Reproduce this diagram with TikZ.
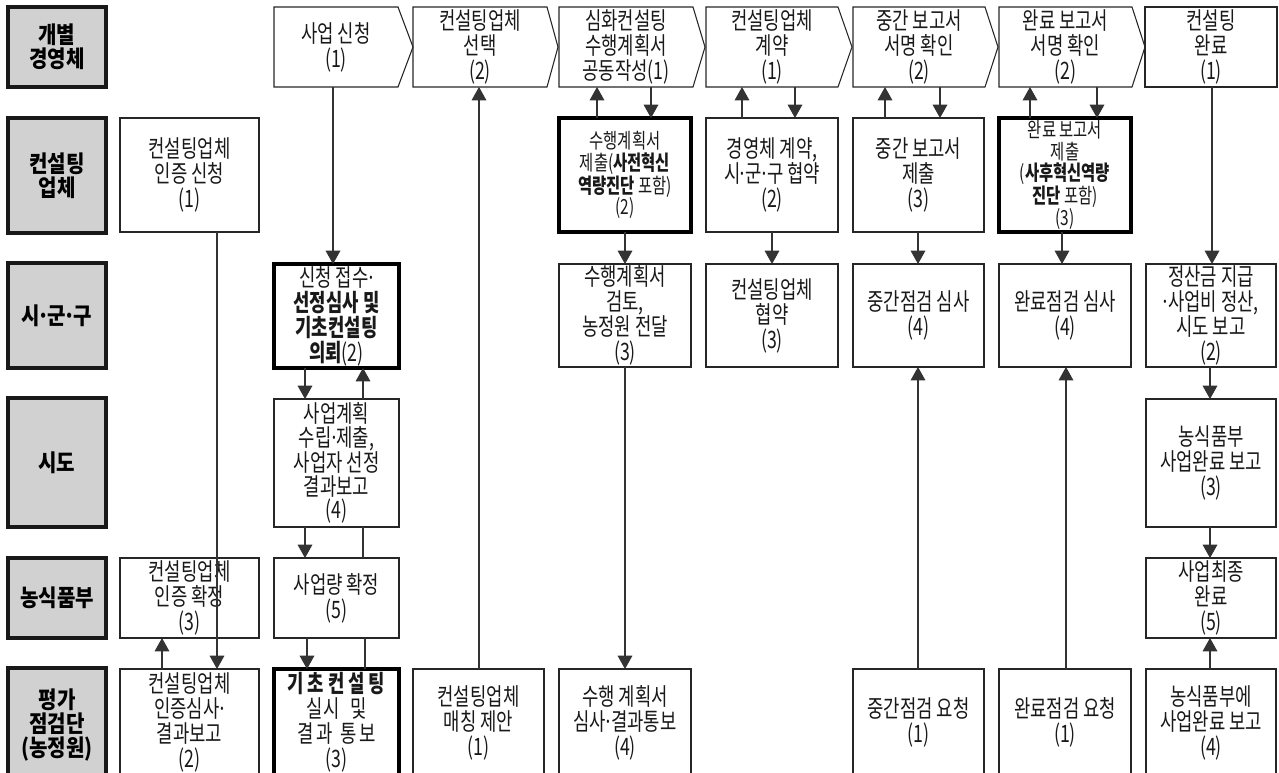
\documentclass[tikz,border=0pt]{standalone}
\usepackage{fontspec}
\usetikzlibrary{arrows.meta}
\newfontfamily\krn{Noto Sans CJK KR}[FakeStretch=0.74]
\newfontfamily\krh{Noto Sans CJK KR}[FakeStretch=0.86]
\newcommand\txtN{\krn\fontsize{18}{18.75}\selectfont}
\newcommand\txtS{\krn\fontsize{15.6}{16.1}\selectfont}
\newcommand\txtH{\krh\bfseries\fontsize{17.5}{18}\selectfont}
\newcommand\md{\kern-0.1em·\kern-0.1em}
\newcommand\BX[7]{\node[#1, minimum width={(#4-#3)*0.75pt}, minimum height={(#6-#5)*0.75pt}] (#2) at ({(#3+#4)/2},{(#5+#6)/2}) {#7};}
\newcommand\CHEV[2]{\draw[boxline] (#1.north west) -- (#1.north east) -- (#2,0 |- #1.east) -- (#1.south east) -- (#1.south west) -- cycle;}
\begin{document}
\begin{tikzpicture}[x=0.75pt,y=-0.75pt,
  every node/.style={inner sep=0pt, outer sep=0pt, align=center},
  boxline/.style={draw=black!85, line width=0.8pt},
  boxn/.style={draw=black!85, line width=0.8pt, fill=white, font=\txtN, text=black!90},
  boxb/.style={boxn, draw=black, line width=2.3pt},
  hdr/.style={draw=black!90, line width=2.3pt, fill=black!18, font=\txtH},
  plain/.style={font=\txtN, text=black!90},
  conn/.style={draw=black!80, line width=0.8pt},
  arr/.style={conn, -{Triangle[width=11pt,length=10pt]}},
]
\useasboundingbox (0,0) rectangle (1279,772);
% headers
\BX{hdr}{h1}{8}{106}{7}{87}{개별\\경영체}
\BX{hdr}{h2}{8}{106}{118}{233}{컨설팅\\업체}
\BX{hdr}{h3}{8}{106}{263}{368}{시\md 군\md 구}
\BX{hdr}{h4}{8}{106}{398}{527}{시도}
\BX{hdr}{h5}{8}{106}{558}{638}{농식품부}
\BX{hdr}{h6}{8}{106}{668}{782}{평가\\점검단\\(농정원)}
% top row
\BX{plain}{t1}{274}{398}{7}{87}{사업 신청\\(1)}
\BX{plain}{t2}{413}{547}{7}{87}{컨설팅업체\\선택\\(2)}
\BX{plain}{t3}{559}{693}{7}{87}{심화컨설팅\\수행계획서\\공동작성(1)}
\BX{plain}{t4}{706}{838}{7}{87}{컨설팅업체\\계약\\(1)}
\BX{plain}{t5}{853}{985}{7}{87}{중간 보고서\\서명 확인\\(2)}
\BX{plain}{t6}{999}{1132}{7}{87}{완료 보고서\\서명 확인\\(2)}
\BX{boxn}{t7}{1145}{1277}{7}{87}{컨설팅\\완료\\(1)}
\CHEV{t1}{413}
\CHEV{t2}{558}
\CHEV{t3}{705}
\CHEV{t4}{852}
\CHEV{t5}{998}
\CHEV{t6}{1145}
% row 2
\BX{boxn}{a0}{120}{259}{118}{232}{컨설팅업체\\인증 신청\\(1)}
\BX{boxb, font=\txtS}{a3}{559}{691}{118}{232}{수행계획서\\제출(\textbf{사전혁신}\\\textbf{역량진단} 포함)\\(2)}
\BX{boxn}{a4}{706}{838}{118}{232}{경영체 계약,\\시\md 군\md 구 협약\\(2)}
\BX{boxn}{a5}{853}{984}{118}{232}{중간 보고서\\제출\\(3)}
\BX{boxb, font=\txtS}{a6}{999}{1131}{118}{232}{완료 보고서\\제출\\(\textbf{사후혁신역량}\\\textbf{진단} 포함)\\(3)}
% row 3
\BX{boxb}{b1}{274}{399}{264}{368}{신청 접수\md\\\textbf{선정심사 및}\\\textbf{기초컨설팅}\\\textbf{의뢰}(2)}
\BX{boxn}{b3}{559}{691}{264}{367}{수행계획서\\검토,\\농정원 전달\\(3)}
\BX{boxn}{b4}{706}{838}{264}{367}{컨설팅업체\\협약\\(3)}
\BX{boxn}{b5}{853}{984}{264}{367}{중간점검 심사\\(4)}
\BX{boxn}{b6}{999}{1131}{264}{367}{완료점검 심사\\(4)}
\BX{boxn}{b7}{1146}{1276}{264}{367}{정산금 지급\\\md 사업비 정산,\\시도 보고\\(2)}
% row 4
\BX{boxn, font=\krn\fontsize{18}{17.6}\selectfont}{c1}{274}{399}{399}{527}{사업계획\\수립\md 제출,\\사업자 선정\\결과보고\\(4)}
\BX{boxn}{c7}{1146}{1276}{399}{527}{농식품부\\사업완료 보고\\(3)}
% row 5
\BX{boxn}{d0}{120}{259}{558}{638}{컨설팅업체\\인증 확정\\(3)}
\BX{boxn}{d1}{274}{399}{558}{638}{사업량 확정\\(5)}
\BX{boxn}{d7}{1146}{1276}{558}{638}{사업최종\\완료\\(5)}
% row 6
\BX{boxn}{e0}{120}{259}{669}{776}{컨설팅업체\\인증심사\md\\결과보고\\(2)}
\BX{boxb}{e1}{274}{399}{669}{776}{\textbf{기\hspace{3pt}초\hspace{3pt}컨\hspace{3pt}설\hspace{3pt}팅}\\실\hspace{1pt}시\hspace{5pt} 및\\결\hspace{2pt}과\hspace{3pt} 통\hspace{2pt}보\\(3)}
\BX{boxn}{e2}{413}{544}{669}{776}{컨설팅업체\\매칭 제안\\(1)}
\BX{boxn}{e3}{559}{691}{669}{776}{수행 계획서\\심사\md 결과통보\\(4)}
\BX{boxn}{e5}{853}{984}{669}{776}{중간점검 요청\\(1)}
\BX{boxn}{e6}{999}{1131}{669}{776}{완료점검 요청\\(1)}
\BX{boxn}{e7}{1146}{1276}{669}{776}{농식품부에\\사업완료 보고\\(4)}
% connectors
\draw[arr] (333,0 |- t1.south) -- (333,0 |- b1.north);
\draw[arr] (217,0 |- a0.south) -- (217,0 |- e0.north);
\draw[arr] (162,0 |- e0.north) -- (162,0 |- d0.south);
\draw[arr] (305,0 |- b1.south) -- (305,0 |- c1.north);
\draw[arr] (363,0 |- c1.north) -- (363,0 |- b1.south);
\draw[arr] (305,0 |- c1.south) -- (305,0 |- d1.north);
\draw[conn] (363,0 |- d1.north) -- (363,0 |- c1.south);
\draw[arr] (307,0 |- d1.south) -- (307,0 |- e1.north);
\draw[conn] (365,0 |- e1.north) -- (365,0 |- d1.south);
\draw[arr] (479,0 |- e2.north) -- (479,0 |- t2.south);
\draw[arr] (597,0 |- a3.north) -- (597,0 |- t3.south);
\draw[arr] (651,0 |- t3.south) -- (651,0 |- a3.north);
\draw[arr] (625,0 |- a3.south) -- (625,0 |- b3.north);
\draw[arr] (625,0 |- b3.south) -- (625,0 |- e3.north);
\draw[arr] (742,0 |- a4.north) -- (742,0 |- t4.south);
\draw[arr] (795,0 |- t4.south) -- (795,0 |- a4.north);
\draw[arr] (772,0 |- a4.south) -- (772,0 |- b4.north);
\draw[arr] (885,0 |- a5.north) -- (885,0 |- t5.south);
\draw[arr] (940,0 |- t5.south) -- (940,0 |- a5.north);
\draw[arr] (918,0 |- a5.south) -- (918,0 |- b5.north);
\draw[arr] (918,0 |- e5.north) -- (918,0 |- b5.south);
\draw[arr] (1030,0 |- a6.north) -- (1030,0 |- t6.south);
\draw[arr] (1097,0 |- t6.south) -- (1097,0 |- a6.north);
\draw[arr] (1062,0 |- a6.south) -- (1062,0 |- b6.north);
\draw[arr] (1066,0 |- e6.north) -- (1066,0 |- b6.south);
\draw[arr] (1212,0 |- t7.south) -- (1212,0 |- b7.north);
\draw[arr] (1210,0 |- b7.south) -- (1210,0 |- c7.north);
\draw[arr] (1210,0 |- c7.south) -- (1210,0 |- d7.north);
\draw[arr] (1210,0 |- e7.north) -- (1210,0 |- d7.south);
\end{tikzpicture}
\end{document}
